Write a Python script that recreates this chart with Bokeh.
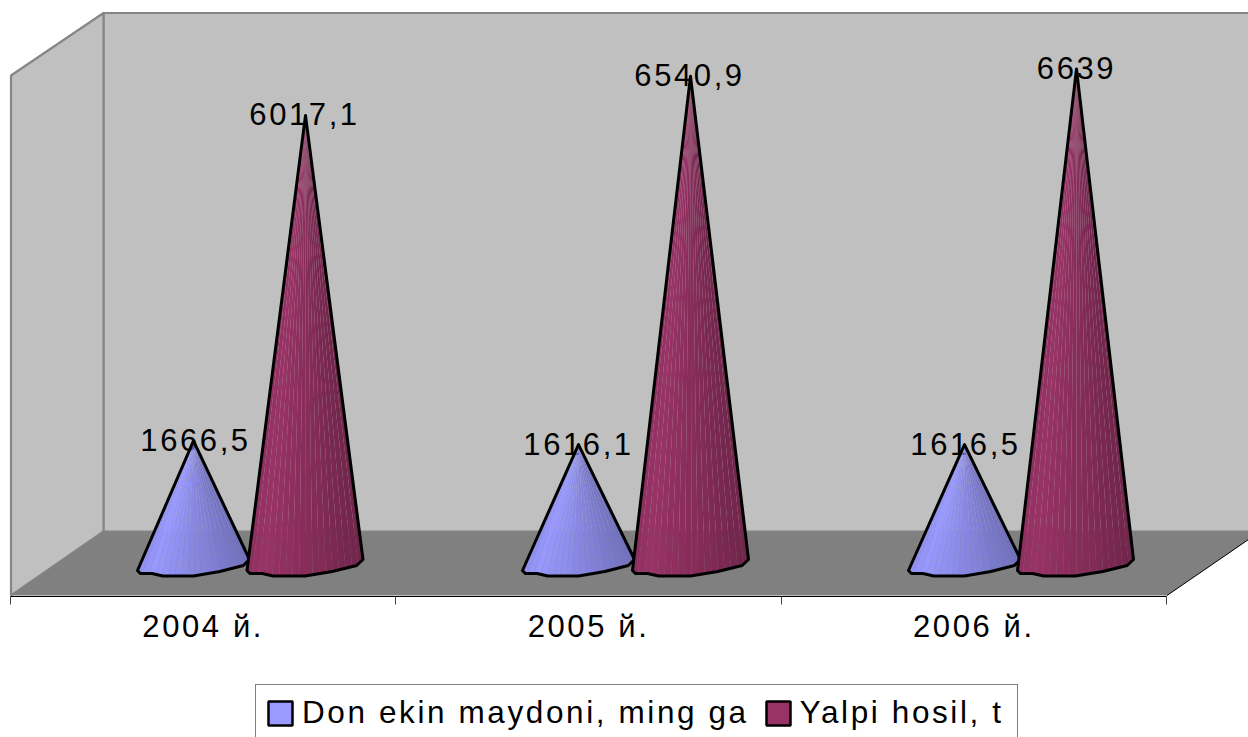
from bokeh.plotting import figure
from bokeh.embed import file_html
from bokeh.resources import INLINE
from bokeh.models import Legend, LegendItem, FixedTicker, ColumnDataSource, Range1d
from bokeh.core.properties import value
import numpy as np

categories = ["2004 й.", "2005 й.", "2006 й."]
series_names = ["Don ekin maydoni, ming ga", "Yalpi hosil, t"]
don_values = [1666.5, 1616.1, 1616.5]
yalpi_values = [6017.1, 6540.9, 6639.0]
don_labels = ["1666,5", "1616,1", "1616,5"]
yalpi_labels = ["6017,1", "6540,9", "6639"]

FONT = "Liberation Sans"
FS = "31px"
SP = 2.6
PX_PER_CAT = 385.33
PX_PER_UNIT = 0.0748
FLOOR_PX = 565.0
W, H = 1248, 737
def X(px): return (px - 10.0) / PX_PER_CAT
def Y(px): return (FLOOR_PX - px) / PX_PER_UNIT

p = figure(width=W, height=H, output_backend="svg", toolbar_location=None,
           x_range=Range1d(X(0), X(W)), y_range=Range1d(Y(H), Y(0)),
           min_border_left=0, min_border_right=0, min_border_top=0, min_border_bottom=0,
           outline_line_color=None, background_fill_color="white", border_fill_color="white")
p.styles = {"letter-spacing": f"{SP}px"}
p.grid.visible = False
p.yaxis.visible = False

WALL = "#C0C0C0"; EDGE = "#868686"
p.patch([X(v) for v in (103, 1260, 1260, 103)], [Y(v) for v in (12.5, 12.5, 531, 531)],
        fill_color=WALL, line_color=EDGE, line_width=2.2)
p.patch([X(v) for v in (10.5, 103, 103, 10.5)], [Y(v) for v in (75, 12.5, 531, 595)],
        fill_color=WALL, line_color=EDGE, line_width=2.2)
p.patch([X(v) for v in (10.5, 103, 1260, 1166.5)], [Y(v) for v in (595, 531, 531, 595)],
        fill_color="#808080", line_color=None)
p.line([X(1166.5), X(1248)], [Y(595), Y(539)], line_color="black", line_width=1)

p.text(x=[X(c) for c in (195, 578, 965)], y=don_values, text=don_labels,
       x_offset=[-len(t) * SP / 2 for t in don_labels], y_offset=-1,
       text_font=value(FONT), text_font_size=FS, text_align="center",
       text_baseline="alphabetic", text_color="black")
p.text(x=[X(c) for c in (304, 689, 1076)], y=yalpi_values, text=yalpi_labels,
       x_offset=[-len(t) * SP / 2 for t in yalpi_labels], y_offset=-1,
       text_font=value(FONT), text_font_size=FS, text_align="center",
       text_baseline="alphabetic", text_color="black")

base_dx = [-1.0, -0.95, -0.74, -0.55, 0.0, 0.47, 0.89, 1.0]
base_dy = [5.0, 8.0, 8.0, 10.5, 10.5, 6.0, 0.0, -6.0]
N = 18

def hexmix(c, f):
    return "#%02x%02x%02x" % tuple(int(round(v * f)) for v in c)

def shade(t):
    if t < 0.12:
        return 0.92 + 0.08 * t / 0.12
    return 1.0 - 0.27 * (t - 0.12) / 0.88

def cone(cx, apex_x, hw, val, rgb):
    xs = [cx + d * hw for d in base_dx]
    ys = [FLOOR_PX + d for d in base_dy]
    seg = np.hypot(np.diff(xs), np.diff(ys))
    s = np.concatenate([[0], np.cumsum(seg)]) / seg.sum()
    tt = np.linspace(0, 1, N + 1)
    bx = np.interp(tt, s, xs); by = np.interp(tt, s, ys)
    strips_x, strips_y, colors = [], [], []
    for i in range(N):
        strips_x.append([X(apex_x), X(bx[i]), X(bx[i + 1])])
        strips_y.append([val, Y(by[i]), Y(by[i + 1])])
        colors.append(hexmix(rgb, shade((i + 0.5) / N)))
    p.patches("x", "y", fill_color="c", line_color=None,
              source=ColumnDataSource(dict(x=strips_x, y=strips_y, c=colors)))
    p.patch([X(apex_x)] + [X(v) for v in xs] + [X(apex_x)],
            [val] + [Y(v) for v in ys] + [val],
            fill_color=None, line_color="black", line_width=3, line_join="round")

BLUE = (153, 153, 255); PINK = (153, 51, 102)
don_cx = [193, 578, 964]
yalpi_cx = [304.5, 690, 1075]
yalpi_ax = [305, 690, 1076]
for i in range(3):
    cone(don_cx[i], don_cx[i], 56, don_values[i], BLUE)
    cone(yalpi_cx[i], yalpi_ax[i], 58, yalpi_values[i], PINK)

k1 = p.quad(left=[-9], right=[-8], top=[-9000], bottom=[-9001], fill_color="#9999FF", line_color="black", line_width=2.5)
k2 = p.quad(left=[-9], right=[-8], top=[-9000], bottom=[-9001], fill_color="#993366", line_color="black", line_width=2.5)
legend = Legend(items=[LegendItem(label=series_names[0], renderers=[k1]),
                       LegendItem(label=series_names[1], renderers=[k2])],
                orientation="horizontal", location=(255, -4),
                glyph_width=30, glyph_height=30, label_standoff=7, label_width=208,
                spacing=14, padding=9, margin=0,
                label_text_font=FONT, label_text_font_size="31.5px", label_text_color="black",
                border_line_color="black", border_line_width=1,
                background_fill_color="white", background_fill_alpha=1)
p.add_layout(legend)

shift = (7 * SP / 2) / PX_PER_CAT
ax = p.xaxis[0]
ax.fixed_location = Y(595.5)
ax.bounds = (0, 3)
label_ticks = [0.5 - shift, 1.5 - shift, 2.5 - shift]
ax.ticker = FixedTicker(ticks=label_ticks, minor_ticks=[0, 1, 2, 3])
ax.major_label_overrides = dict(zip(label_ticks, categories))
ax.major_tick_line_color = None
ax.major_tick_in = 0; ax.major_tick_out = 0
ax.minor_tick_in = 0; ax.minor_tick_out = 8
ax.minor_tick_line_color = "#404040"
ax.axis_line_color = "black"
ax.axis_line_width = 1
ax.major_label_standoff = 5
ax.major_label_text_font = FONT
ax.major_label_text_font_size = FS
ax.major_label_text_color = "black"

open("out.html", "w").write(file_html(p, INLINE))
